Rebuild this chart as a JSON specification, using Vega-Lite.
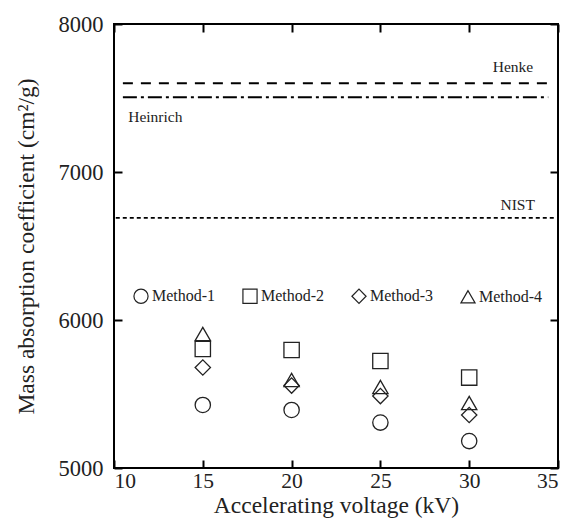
{
  "$schema": "https://vega.github.io/schema/vega-lite/v6.json",
  "width": 444,
  "height": 444,
  "autosize": "none",
  "padding": {"left": 114, "top": 24, "right": 12, "bottom": 53},
  "background": "white",
  "config": {
    "font": "Liberation Serif",
    "view": {"stroke": "black", "strokeWidth": 2},
    "style": {
      "guide-label": {"font": "Liberation Serif", "fontSize": 21, "fill": "#222"},
      "guide-title": {"font": "Liberation Serif", "fontSize": 23, "fontWeight": "normal", "fill": "#222"}
    },
    "axis": {
      "domain": false,
      "grid": false,
      "tickColor": "black",
      "tickWidth": 2,
      "tickSize": -8,
      "labelFont": "Liberation Serif",
      "labelFontSize": 21,
      "labelColor": "#222",
      "titleFont": "Liberation Serif",
      "titleFontSize": 23,
      "titleFontWeight": "normal",
      "titleColor": "#222"
    }
  },
  "datasets": {
    "points": [
      {"kV": 15, "method": "Method-1", "mac": 5426},
      {"kV": 15, "method": "Method-2", "mac": 5804},
      {"kV": 15, "method": "Method-3", "mac": 5679},
      {"kV": 15, "method": "Method-4", "mac": 5905},
      {"kV": 20, "method": "Method-1", "mac": 5392},
      {"kV": 20, "method": "Method-2", "mac": 5797},
      {"kV": 20, "method": "Method-3", "mac": 5557},
      {"kV": 20, "method": "Method-4", "mac": 5595},
      {"kV": 25, "method": "Method-1", "mac": 5307},
      {"kV": 25, "method": "Method-2", "mac": 5723},
      {"kV": 25, "method": "Method-3", "mac": 5486},
      {"kV": 25, "method": "Method-4", "mac": 5547},
      {"kV": 30, "method": "Method-1", "mac": 5182},
      {"kV": 30, "method": "Method-2", "mac": 5611},
      {"kV": 30, "method": "Method-3", "mac": 5358},
      {"kV": 30, "method": "Method-4", "mac": 5439}
    ],
    "refs": [
      {"name": "Henke", "value": 7600, "start": 10.5, "end": 34.45},
      {"name": "Heinrich", "value": 7505, "start": 10.5, "end": 34.45},
      {"name": "NIST", "value": 6690, "start": 10.1, "end": 34.8}
    ],
    "labels": [
      {"name": "Henke", "lx": 33.6, "ly": 7676},
      {"name": "Heinrich", "lx": 10.8, "ly": 7338},
      {"name": "NIST", "lx": 33.7, "ly": 6743}
    ]
  },
  "layer": [
    {
      "data": {"name": "points"},
      "mark": {"type": "point", "filled": false, "stroke": "#222", "strokeWidth": 1.3, "size": 235, "opacity": 1},
      "encoding": {
        "x": {
          "field": "kV", "type": "quantitative",
          "scale": {"domain": [10, 35], "nice": false, "zero": false},
          "axis": {"values": [10, 15, 20, 25, 30, 35], "format": "d", "title": "Accelerating voltage (kV)", "labelPadding": 10, "titlePadding": 2,
            "labelFont": "Liberation Serif", "labelFontSize": 21.5, "titleFont": "Liberation Serif", "titleFontSize": 23.5}
        },
        "y": {
          "field": "mac", "type": "quantitative",
          "scale": {"domain": [5000, 8000], "nice": false, "zero": false},
          "axis": {"values": [5000, 6000, 7000, 8000], "format": "d", "title": "Mass absorption coefficient (cm²/g)", "labelPadding": 19, "titlePadding": 20,
            "labelFont": "Liberation Serif", "labelFontSize": 22.5, "titleFont": "Liberation Serif", "titleFontSize": 23.5}
        },
        "shape": {
          "field": "method", "type": "nominal",
          "scale": {"domain": ["Method-1", "Method-2", "Method-3", "Method-4"], "range": ["circle", "square", "diamond", "triangle-up"]},
          "legend": {
            "orient": "none", "direction": "horizontal", "legendX": 19, "legendY": 264,
            "title": null, "padding": 0, "columnPadding": 24, "labelOffset": 3,
            "labelFont": "Liberation Serif", "labelFontSize": 16, "labelColor": "#222",
            "symbolSize": 200, "symbolStrokeColor": "#222", "symbolStrokeWidth": 1.2, "symbolFillColor": "transparent"
          }
        }
      }
    },
    {
      "data": {"name": "points"},
      "mark": {"type": "point", "opacity": 0},
      "encoding": {
        "x": {"field": "kV", "type": "quantitative", "axis": {"orient": "top", "values": [10, 15, 20, 25, 30, 35], "labels": false, "title": null}},
        "y": {"field": "mac", "type": "quantitative", "axis": {"orient": "right", "values": [5000, 6000, 7000, 8000], "labels": false, "title": null}}
      }
    },
    {
      "data": {"name": "refs"},
      "transform": [{"filter": "datum.name === 'Henke'"}],
      "mark": {"type": "rule", "stroke": "black", "strokeWidth": 2, "strokeDash": [10, 8]},
      "encoding": {
        "x": {"field": "start", "type": "quantitative", "axis": null},
        "x2": {"field": "end"},
        "y": {"field": "value", "type": "quantitative", "axis": null}
      }
    },
    {
      "data": {"name": "refs"},
      "transform": [{"filter": "datum.name === 'Heinrich'"}],
      "mark": {"type": "rule", "stroke": "black", "strokeWidth": 2, "strokeDash": [14, 4, 3, 4]},
      "encoding": {
        "x": {"field": "start", "type": "quantitative", "axis": null},
        "x2": {"field": "end"},
        "y": {"field": "value", "type": "quantitative", "axis": null}
      }
    },
    {
      "data": {"name": "refs"},
      "transform": [{"filter": "datum.name === 'NIST'"}],
      "mark": {"type": "rule", "stroke": "black", "strokeWidth": 1.8, "strokeDash": [4, 3]},
      "encoding": {
        "x": {"field": "start", "type": "quantitative", "axis": null},
        "x2": {"field": "end"},
        "y": {"field": "value", "type": "quantitative", "axis": null}
      }
    },
    {
      "data": {"name": "labels"},
      "transform": [{"filter": "datum.name !== 'Heinrich'"}],
      "mark": {"type": "text", "align": "right", "baseline": "alphabetic", "font": "Liberation Serif", "fontSize": 15.5, "color": "#222"},
      "encoding": {
        "x": {"field": "lx", "type": "quantitative", "axis": null},
        "y": {"field": "ly", "type": "quantitative", "axis": null},
        "text": {"field": "name"}
      }
    },
    {
      "data": {"name": "labels"},
      "transform": [{"filter": "datum.name === 'Heinrich'"}],
      "mark": {"type": "text", "align": "left", "baseline": "alphabetic", "font": "Liberation Serif", "fontSize": 15.5, "color": "#222"},
      "encoding": {
        "x": {"field": "lx", "type": "quantitative", "axis": null},
        "y": {"field": "ly", "type": "quantitative", "axis": null},
        "text": {"field": "name"}
      }
    }
  ],
  "resolve": {"axis": {"x": "independent", "y": "independent"}}
}
